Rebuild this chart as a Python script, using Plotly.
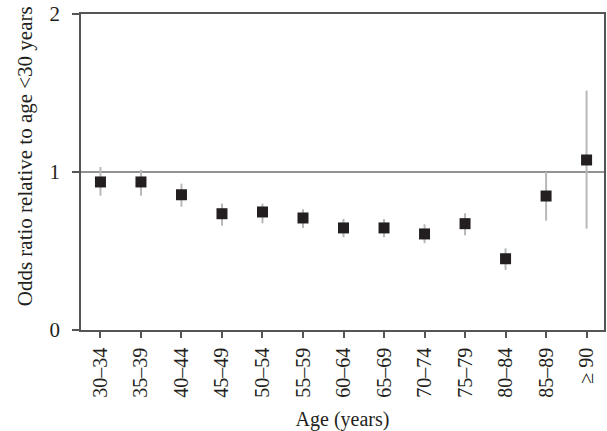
import plotly.graph_objects as go

categories = ["30–34", "35–39", "40–44", "45–49", "50–54", "55–59", "60–64",
              "65–69", "70–74", "75–79", "80–84", "85–89", "≥ 90"]
odds_ratio = [0.937, 0.937, 0.856, 0.736, 0.747, 0.709, 0.646, 0.646, 0.608,
              0.673, 0.451, 0.848, 1.076]
ci_upper = [1.032, 1.013, 0.926, 0.800, 0.800, 0.764, 0.703, 0.703, 0.669,
            0.739, 0.517, 1.000, 1.515]
ci_lower = [0.850, 0.850, 0.780, 0.660, 0.675, 0.646, 0.587, 0.587, 0.549,
            0.599, 0.380, 0.692, 0.641]

err_plus = [u - v for u, v in zip(ci_upper, odds_ratio)]
err_minus = [v - l for v, l in zip(odds_ratio, ci_lower)]

font_family = "Liberation Serif, Times New Roman, serif"

fig = go.Figure()
fig.add_hline(y=1, line=dict(color="#6e6e6e", width=1.5), layer="below")
fig.add_trace(go.Scatter(
    x=list(range(len(categories))), y=odds_ratio, mode="markers",
    marker=dict(symbol="square", size=11, color="#231f20"),
    error_y=dict(type="data", symmetric=False, array=err_plus,
                 arrayminus=err_minus, color="#b8b8b8", thickness=2, width=0),
    showlegend=False,
))

fig.add_annotation(
    text="Odds ratio relative to age <30 years",
    xref="paper", yref="paper", x=-0.107, y=0.55,
    xanchor="center", yanchor="middle", textangle=-90, showarrow=False,
    font=dict(size=21, family=font_family, color="#231f20"),
)

fig.update_layout(
    width=607, height=431,
    margin=dict(l=81, r=3, t=14, b=101),
    paper_bgcolor="white", plot_bgcolor="white",
    font=dict(family=font_family, size=20, color="#231f20"),
    xaxis=dict(
        range=[-0.48, 12.43], automargin=False,
        tickmode="array", tickvals=list(range(len(categories))),
        ticktext=categories, tickangle=-90,
        ticks="outside", ticklen=6, tickcolor="#555", tickwidth=1.5,
        ticklabelstandoff=2,
        showline=True, linecolor="#555", linewidth=1.5, mirror=True,
        showgrid=False, zeroline=False,
        title=dict(text="Age (years)", font=dict(size=20), standoff=17),
        tickfont=dict(size=20),
    ),
    yaxis=dict(
        range=[0, 2], tickvals=[0, 1, 2], automargin=False,
        ticks="outside", ticklen=7, tickcolor="#555", tickwidth=1.5,
        ticklabelstandoff=8,
        showline=True, linecolor="#555", linewidth=1.5, mirror=True,
        showgrid=False, zeroline=False,
        tickfont=dict(size=21),
    ),
)

# remove the browser's default 8px body margin so the figure fills the window
fig.write_html("out.html", config={"displayModeBar": False},
               post_script="document.body.style.margin='0';")
